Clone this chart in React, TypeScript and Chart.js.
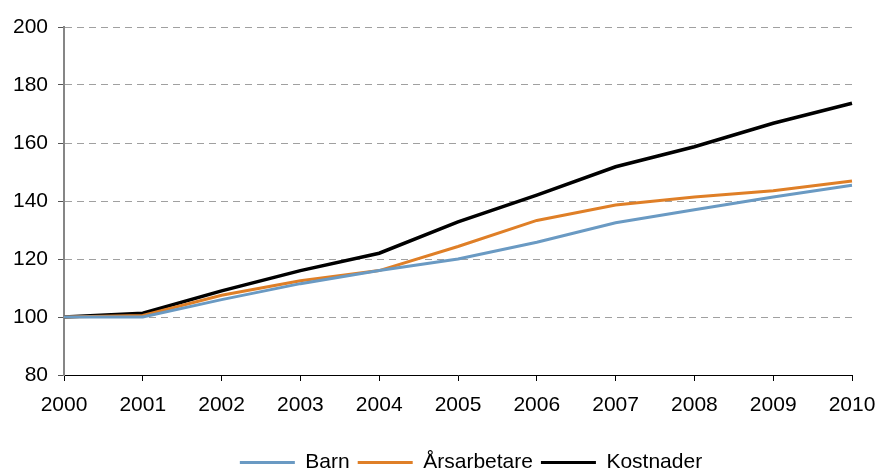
import React, { useEffect, useRef } from "react";
import { Chart, registerables } from "chart.js";

Chart.register(...registerables);

const years = ["2000", "2001", "2002", "2003", "2004", "2005", "2006", "2007", "2008", "2009", "2010"];
const barn = [100, 100, 106, 111.5, 116, 120, 125.8, 132.5, 137, 141.4, 145.4];
const arsarbetare = [100, 100.5, 107.5, 112.5, 116, 124.3, 133.3, 138.6, 141.4, 143.5, 146.9];
const kostnader = [100, 101.3, 109, 116, 122, 132.8, 142, 151.8, 158.7, 166.8, 173.7];

const shiftLegend = {
  id: "shiftLegend",
  afterLayout(chart: any) {
    const lg = chart.legend;
    if (!lg) return;
    const dy = 13;
    const dx = 45;
    lg.top += dy;
    lg.bottom += dy;
    lg.left += dx;
    lg.right += dx;
  },
};

export default function App() {
  const ref = useRef<HTMLCanvasElement | null>(null);

  useEffect(() => {
    if (!ref.current) return;
    const font = { family: "'Liberation Sans', Arial, sans-serif", size: 21 };
    const chart = new Chart(ref.current, {
      type: "line",
      data: {
        labels: years,
        datasets: [
          { label: "Barn", data: barn, borderColor: "#6a9ac3", backgroundColor: "#6a9ac3", borderWidth: 3, pointRadius: 0, tension: 0 },
          { label: "Årsarbetare", data: arsarbetare, borderColor: "#df7f27", backgroundColor: "#df7f27", borderWidth: 3, pointRadius: 0, tension: 0 },
          { label: "Kostnader", data: kostnader, borderColor: "#000000", backgroundColor: "#000000", borderWidth: 3.5, pointRadius: 0, tension: 0 },
        ],
      },
      plugins: [shiftLegend],
      options: {
        responsive: false,
        animation: false,
        layout: { padding: { top: 27, right: 26, left: 0, bottom: 2 } },
        plugins: {
          legend: {
            position: "bottom",
            labels: {
              font,
              color: "#000",
              boxWidth: 55,
              boxHeight: 3,
              padding: 8,
              generateLabels: (c: any) =>
                Chart.defaults.plugins.legend.labels.generateLabels(c).map((l: any) => ({
                  ...l,
                  strokeStyle: "rgba(0,0,0,0)",
                  lineWidth: 1,
                })),
            },
          },
          tooltip: { enabled: false },
        },
        scales: {
          x: {
            offset: false,
            grid: { drawOnChartArea: false, drawTicks: true, tickLength: 6, tickColor: "#000" },
            border: { color: "#000", width: 1 },
            ticks: { font, color: "#000", padding: 12, maxRotation: 0 },
            afterFit: (s: any) => {
              s.height = 56;
              s.paddingRight = 0;
              s.paddingLeft = 0;
            },
          },
          y: {
            min: 80,
            max: 200,
            grid: {
              color: (ctx: any) => (ctx.tick && ctx.tick.value === 80 ? "rgba(0,0,0,0)" : "#a0a0a0"),
              tickColor: "#555",
              tickLength: 6,
              lineWidth: 1,
            },
            border: { color: "#868686", width: 2, dash: [7, 5] },
            ticks: { font, color: "#000", stepSize: 20, padding: 10 },
            afterFit: (s: any) => { s.width = 64; },
          },
        },
      },
    });
    return () => chart.destroy();
  }, []);

  return (
    <div style={{ position: "fixed", left: 0, top: 0, width: 878, height: 472, background: "#fff" }}>
      <canvas ref={ref} width={878} height={472} style={{ width: 878, height: 472 }} />
    </div>
  );
}
